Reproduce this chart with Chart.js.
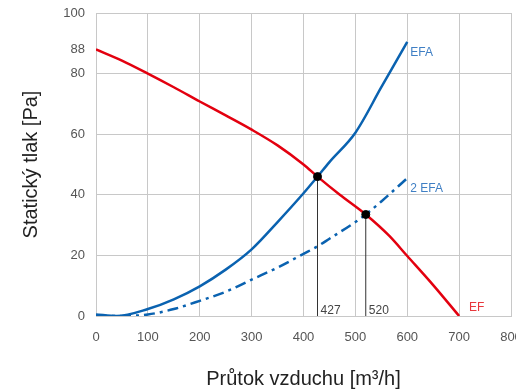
<!DOCTYPE html>
<html>
<head>
<meta charset="utf-8">
<script src="https://cdn.jsdelivr.net/npm/chart.js@4"></script>
<style>
  html, body { margin: 0; padding: 0; background: #fff; overflow: hidden; }
  #wrap { width: 516px; height: 391px; }
</style>
</head>
<body>
<div id="wrap"><canvas id="myChart"></canvas></div>
<script>
const colorRed = '#e3000f';
const colorBlue = '#0a62b0';
const labelBlue = '#3f7fc4';
const labelRed = '#e8383d';

// EF characteristic
const flowEF = [0, 50, 100, 150, 200, 250, 300, 350, 400, 427, 470, 520, 565, 600, 650, 700];
const pressEF = [88, 84.3, 80, 75.5, 70.8, 66.2, 61.5, 56.3, 50, 46, 40, 33.5, 26.5, 19.8, 10.2, 0];

// EFA system curve
const flowEFA = [0, 40, 100, 150, 200, 250, 300, 350, 400, 427, 450, 500, 550, 600];
const pressEFA = [0.5, 0, 2.3, 5.5, 9.8, 15.3, 22, 31, 40.5, 46, 50.8, 60.5, 75.5, 90.5];

// 2 EFA system curve
const flow2EFA = [0, 50, 100, 150, 200, 250, 300, 350, 400, 427, 450, 500, 520, 550, 600];
const press2EFA = [0, 0, 0.5, 2.3, 5, 8, 12, 16, 20.5, 23, 25.5, 31, 33.5, 37.8, 45.5];

// operating points
const opFlow = [427, 520];
const opPress = [46, 33.5];

const xTicks = [0, 100, 200, 300, 400, 500, 600, 700, 800];
const yTicks = [0, 20, 40, 60, 80, 88, 100];

const pts = (xs, ys) => xs.map((x, i) => ({x: x, y: ys[i]}));

const curveLabels = [
  {text: 'EFA', x: 606, y: 87, color: labelBlue},
  {text: '2 EFA', x: 606, y: 42, color: labelBlue},
  {text: 'EF', x: 719, y: 2.6, color: labelRed},
  {text: '427', x: 433, y: 1.6, color: '#444'},
  {text: '520', x: 526, y: 1.6, color: '#444'}
];

const textPlugin = {
  id: 'curveText',
  afterDatasetsDraw(chart) {
    const c = chart.ctx;
    const xs = chart.scales.x, ys = chart.scales.y;
    c.save();
    c.font = '12px "Liberation Sans", Arial, sans-serif';
    c.textBaseline = 'middle';
    c.textAlign = 'left';
    curveLabels.forEach(l => {
      c.fillStyle = l.color;
      c.fillText(l.text, xs.getPixelForValue(l.x), ys.getPixelForValue(l.y));
    });
    c.restore();
  }
};

const datasets = [
  {
    label: 'EF',
    data: pts(flowEF, pressEF),
    borderColor: colorRed,
    borderWidth: 2.5,
    cubicInterpolationMode: 'monotone',
    pointRadius: 0,
    order: 1
  },
  {
    label: 'EFA',
    data: pts(flowEFA, pressEFA),
    borderColor: colorBlue,
    borderWidth: 2.5,
    cubicInterpolationMode: 'monotone',
    pointRadius: 0,
    order: 2
  },
  {
    label: '2 EFA',
    data: pts(flow2EFA, press2EFA),
    borderColor: colorBlue,
    borderWidth: 2.5,
    borderDash: [11, 5, 3, 5],
    cubicInterpolationMode: 'monotone',
    pointRadius: 0,
    order: 3
  }
];

opFlow.forEach((f, i) => {
  datasets.push({
    label: 'v' + f,
    data: [{x: f, y: 0}, {x: f, y: opPress[i]}],
    borderColor: '#333',
    borderWidth: 1,
    pointRadius: 0,
    order: 0
  });
});

datasets.push({
  label: 'body',
  data: pts(opFlow, opPress),
  showLine: false,
  pointRadius: 4,
  pointBackgroundColor: '#000',
  pointBorderColor: '#000',
  order: -1
});

const ctx = document.getElementById('myChart');
new Chart(ctx, {
  type: 'line',
  data: {datasets: datasets},
  options: {
    responsive: true,
    maintainAspectRatio: false,
    animation: false,
    layout: {padding: {top: 13, left: 0, right: 4, bottom: 0}},
    plugins: {
      legend: {display: false},
      tooltip: {enabled: false}
    },
    scales: {
      x: {
        type: 'linear',
        min: 0,
        max: 800,
        afterBuildTicks: s => { s.ticks = xTicks.map(v => ({value: v})); },
        afterFit: s => { s.height = 75; s.paddingLeft = 0; s.paddingRight = 0; },
        grid: {color: '#c8c8c8', drawTicks: false},
        border: {color: '#c8c8c8'},
        ticks: {
          color: '#555',
          padding: 14,
          maxRotation: 0,
          font: {family: '"Liberation Sans", Arial, sans-serif', size: 13}
        },
        title: {
          display: true,
          text: 'Průtok vzduchu [m³/h]',
          color: '#222',
          padding: {top: 2, bottom: 0},
          font: {family: '"Liberation Sans", Arial, sans-serif', size: 20}
        }
      },
      y: {
        type: 'linear',
        min: 0,
        max: 100,
        afterBuildTicks: s => { s.ticks = yTicks.map(v => ({value: v})); },
        afterFit: s => { s.width = 96; s.paddingTop = 0; s.paddingBottom = 0; },
        grid: {
          color: c => (c.tick && c.tick.value === 88) ? 'rgba(0,0,0,0)' : '#c8c8c8',
          drawTicks: false
        },
        border: {color: '#c8c8c8'},
        ticks: {
          color: '#555',
          padding: 11,
          font: {family: '"Liberation Sans", Arial, sans-serif', size: 13}
        },
        title: {
          display: true,
          text: 'Statický tlak [Pa]',
          color: '#222',
          padding: {top: 19, bottom: 0},
          font: {family: '"Liberation Sans", Arial, sans-serif', size: 20}
        }
      }
    }
  },
  plugins: [textPlugin]
});
</script>
</body>
</html>
